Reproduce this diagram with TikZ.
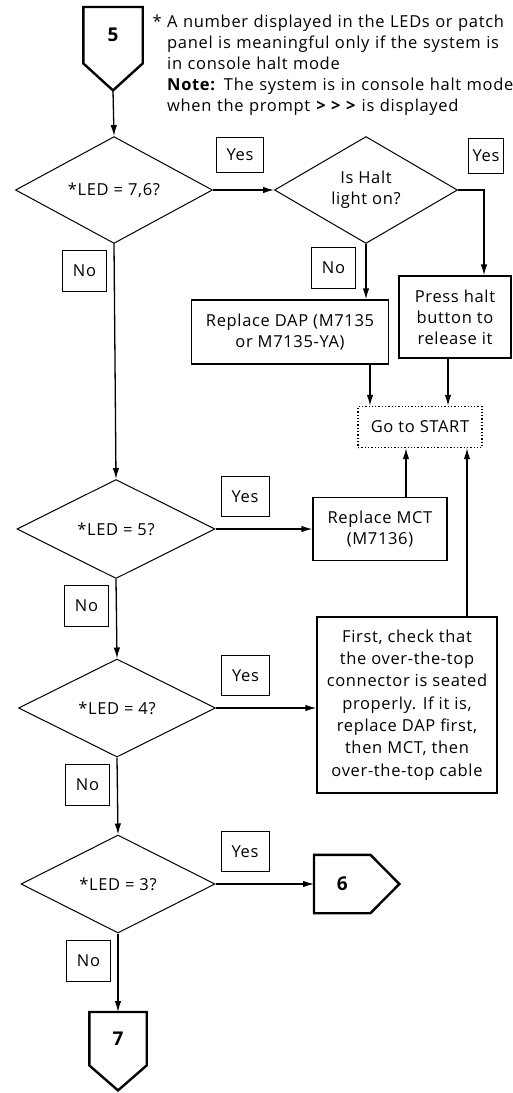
\documentclass[tikz,border=0pt]{standalone}
\usepackage{fontspec}
\setmainfont[LetterSpace=4]{Open Sans}
\usetikzlibrary{arrows.meta,positioning,shapes.geometric,calc}

\begin{document}
\begin{tikzpicture}[
  x=1pt, y=-1pt,
  font=\fontsize{16.5}{21}\selectfont,
  test/.style={diamond,draw,line width=1pt,inner sep=0pt,align=center},
  act/.style={draw,line width=1.3pt,align=center,inner sep=2pt},
  tag/.style={draw,line width=1.1pt,minimum width=44pt,minimum height=41pt,inner sep=0pt},
  yes/.style={tag,above right=12pt and 5pt of #1,minimum width=48pt,minimum height=40pt},
  no/.style={tag,below left=6pt and 7pt of #1},
  goto/.style={draw,dotted,line width=1.3pt,minimum width=124pt,minimum height=41pt},
  conn/.style={inner sep=0pt,font=\bfseries\fontsize{19}{21}\selectfont},
  connline/.style={line width=2.4pt},
  line/.style={->,line width=1.3pt},
  >={Latex[length=11pt,width=6.5pt]}]

\useasboundingbox (0,0) rectangle (513,1093);

% entry and note
\node[conn,minimum width=59pt,minimum height=56pt,anchor=north] (c5) at (113,7) {5};
\coordinate (c5tip) at ($(c5.south)+(0,27)$);
\draw[connline] (c5.north west) -- (c5.south west) -- (c5tip) -- (c5.south east) -- (c5.north east) -- cycle;
\node[anchor=north west,text width=346pt,align=left,inner sep=0pt] (note) at (167,15)
  {\parindent=0pt\noindent\llap{*\ }A number displayed in the LEDs or patch\\
   panel is meaningful only if the system is\\
   in console halt mode\\
   \textbf{Note:} The system is in console halt mode\\
   when the prompt \textbf{> > >} is displayed};

% first test and halt light
\node[test,minimum width=197pt,minimum height=97pt] (d1) at (114,190) {*LED = 7,6?};
\node[test,minimum width=183pt,minimum height=90pt] (d2) at (366,190) {Is Halt\\light on?};
\node[act,minimum width=197pt,minimum height=64pt] (dap) at (290,332) {Replace DAP (M7135\\or M7135-YA)};
\node[act,minimum width=112pt,minimum height=82pt] (halt) at (455,317) {Press halt\\button to\\release it};
\node[goto] (start) at (420,427) {Go to START};

% remaining tests
\node[test,minimum width=198pt,minimum height=99pt] (d3) at (116,529) {*LED = 5?};
\node[act,minimum width=134pt,minimum height=63pt] (mct) at (380,529) {Replace MCT\\(M7136)};
\node[test,minimum width=197pt,minimum height=98pt] (d4) at (117,708) {*LED = 4?};
\node[act,minimum width=180pt,minimum height=176pt,font=\fontsize{16.5}{22.3}\selectfont] (first) at (407,705)
  {First, check that\\the over-the-top\\connector is seated\\properly. If it is,\\replace DAP first,\\then MCT, then\\over-the-top cable};
\node[test,minimum width=194pt,minimum height=98pt] (d5) at (118,884) {*LED = 3?};
\node[conn,minimum width=56pt,minimum height=58pt,anchor=west] (c6) at (314,884) {6};
\coordinate (c6tip) at ($(c6.east)+(29,0)$);
\draw[connline] (c6.north west) -- (c6.north east) -- (c6tip) -- (c6.south east) -- (c6.south west) -- cycle;
\node[conn,minimum width=57pt,minimum height=53pt,anchor=north] (c7) at (118,1012) {7};
\coordinate (c7tip) at ($(c7.south)+(0,25)$);
\draw[connline] (c7.north west) -- (c7.south west) -- (c7tip) -- (c7.south east) -- (c7.north east) -- cycle;

% yes / no tags
\node[yes=d1.east,above right=17pt and 3pt of d1.east,minimum width=47pt,minimum height=35pt] (y1) {Yes};
\node[yes=d2.east,above right=16pt and 10pt of d2.east,minimum width=35pt,minimum height=35pt] (y2) {Yes};
\node[yes=d3.east] (y3) {Yes};
\node[yes=d4.east] (y4) {Yes};
\node[yes=d5.east] (y5) {Yes};
\node[no=d1.south] (n1) {No};
\node[no=d2.south,below left=3pt and 10pt of d2.south] (n2) {No};
\node[no=d3.south] (n3) {No};
\node[no=d4.south] (n4) {No};
\node[no=d5.south] (n5) {No};

% into Go to START
\coordinate (s1) at ([xshift=-50pt]start.north);
\coordinate (s2) at ([xshift=28pt]start.north);
\coordinate (s3) at ([xshift=-14pt]start.south);
\coordinate (s4) at ([xshift=47pt]start.south);

\draw[line] (c5tip) -- (d1.north);
\draw[line] (d1.east) -- (d2.west);
\draw[line] (d2.east) -| ([xshift=29pt]halt.north);
\draw[line] (d2.south) -- (d2.south |- dap.north);
\draw[line] (s1 |- dap.south) -- (s1);
\draw[line] (s2 |- halt.south) -- (s2);
\draw[line] (s3 |- mct.north) -- (s3);
\draw[line] (s4 |- first.north) -- (s4);
\draw[line] (d1.south) -- (d3.north);
\draw[line] (d3.east) -- (d3.east -| mct.west);
\draw[line] (d3.south) -- (d4.north);
\draw[line] (d4.east) -- (d4.east -| first.west);
\draw[line] (d4.south) -- (d5.north);
\draw[line] (d5.east) -- (d5.east -| c6.west);
\draw[line] (d5.south) -- (c7.north);
\end{tikzpicture}
\end{document}
